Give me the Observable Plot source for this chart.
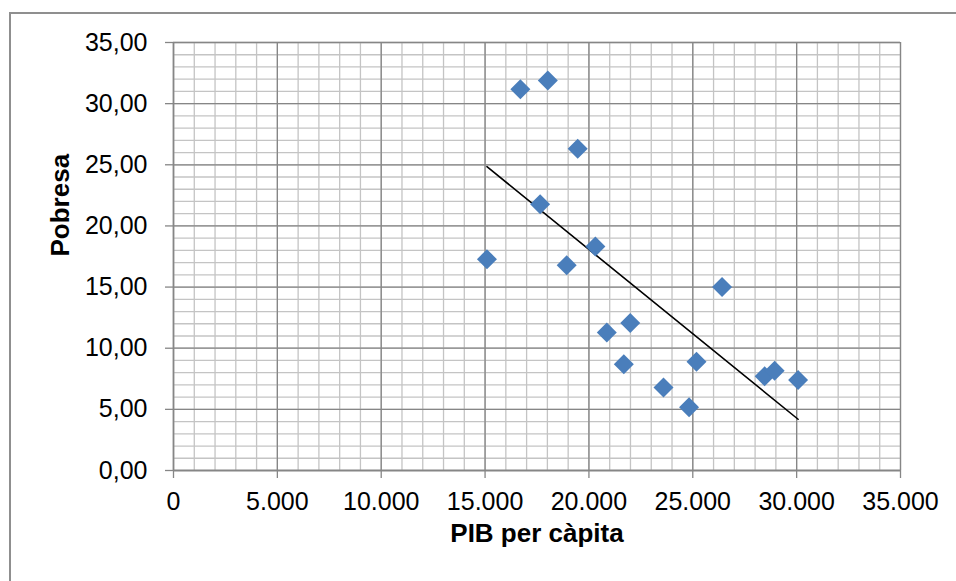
<!DOCTYPE html>
<html>
<head>
<meta charset="utf-8">
<script src="https://cdn.jsdelivr.net/npm/d3@7"></script>
<script src="https://cdn.jsdelivr.net/npm/@observablehq/plot@0.6"></script>
<style>
  html, body { margin: 0; padding: 0; background: #fff; }
  #wrap { position: relative; width: 956px; height: 581px; overflow: hidden; font-family: "Liberation Sans", Arial, sans-serif; }
  #border { position: absolute; left: 9px; top: 12px; width: 1200px; height: 800px; border: 2px solid #8f8f8f; box-sizing: border-box; }
  #chart { position: absolute; left: 0; top: 0; }
</style>
</head>
<body>
<div id="wrap"><div id="border"></div><div id="chart"></div></div>
<script>
// PIB per càpita (x) and Pobresa (y)
const pib = [15090, 16700, 18020, 19460, 17650, 20310, 18930, 26410, 21990, 20860, 21680, 25180, 23590, 24820, 28460, 28940, 30070];
const pobresa = [17.28, 31.18, 31.90, 26.31, 21.77, 18.31, 16.79, 15.00, 12.06, 11.29, 8.68, 8.90, 6.78, 5.17, 7.70, 8.16, 7.40];
const xTicks = [0, 5000, 10000, 15000, 20000, 25000, 30000, 35000];
const yTicks = [0, 5, 10, 15, 20, 25, 30, 35];
const xMinor = d3.range(0, 35001, 1000);
const yMinor = d3.range(0, 35.001, 1);

const data = pib.map((x, i) => ({x, y: pobresa[i]}));
const loc = d3.formatLocale({decimal: ",", thousands: ".", grouping: [3], currency: ["", "€"]});
const fx = loc.format(",.0f");
const fy = loc.format(".2f");

const font = "Liberation Sans, Arial, sans-serif";
const chart = Plot.plot({
  width: 956,
  height: 581,
  marginLeft: 173,
  marginRight: 56,
  marginTop: 42,
  marginBottom: 111,
  style: {fontFamily: font, background: "transparent", overflow: "visible"},
  x: {domain: [0, 35000]},
  y: {domain: [0, 35]},
  marks: [
    Plot.ruleX(xMinor, {stroke: "#c4c4c4", strokeWidth: 1.3}),
    Plot.ruleY(yMinor, {stroke: "#c4c4c4", strokeWidth: 1.3}),
    Plot.ruleX(xTicks, {stroke: "#868686", strokeWidth: 1.3}),
    Plot.ruleY(yTicks, {stroke: "#868686", strokeWidth: 1.3}),
    Plot.axisX({ticks: xTicks, tickFormat: fx, tickSize: 8, tickPadding: 14, fontSize: 25, stroke: "#868686", strokeWidth: 1.3, color: "#000", label: null}),
    Plot.axisY({ticks: yTicks, tickFormat: fy, tickSize: 8, tickPadding: 18, fontSize: 25, stroke: "#868686", strokeWidth: 1.3, color: "#000", label: null}),
    Plot.ruleY([0], {stroke: "#868686", strokeWidth: 1.5}),
    Plot.ruleX([0], {stroke: "#868686", strokeWidth: 1.5}),
    Plot.linearRegressionY(data, {x: "x", y: "y", stroke: "#000", strokeWidth: 1.6, ci: 0}),
    Plot.dot(data, {x: "x", y: "y", symbol: "diamond2", r: 9, fill: "#4A7EBB", stroke: "none"}),
    Plot.text(["PIB per càpita"], {frameAnchor: "bottom", dy: 71, fontSize: 26, fontWeight: "bold", fill: "#000"}),
    Plot.text(["Pobresa"], {frameAnchor: "left", dx: -113, rotate: -90, fontSize: 26, fontWeight: "bold", fill: "#000"})
  ]
});
document.getElementById("chart").appendChild(chart);
</script>
</body>
</html>
